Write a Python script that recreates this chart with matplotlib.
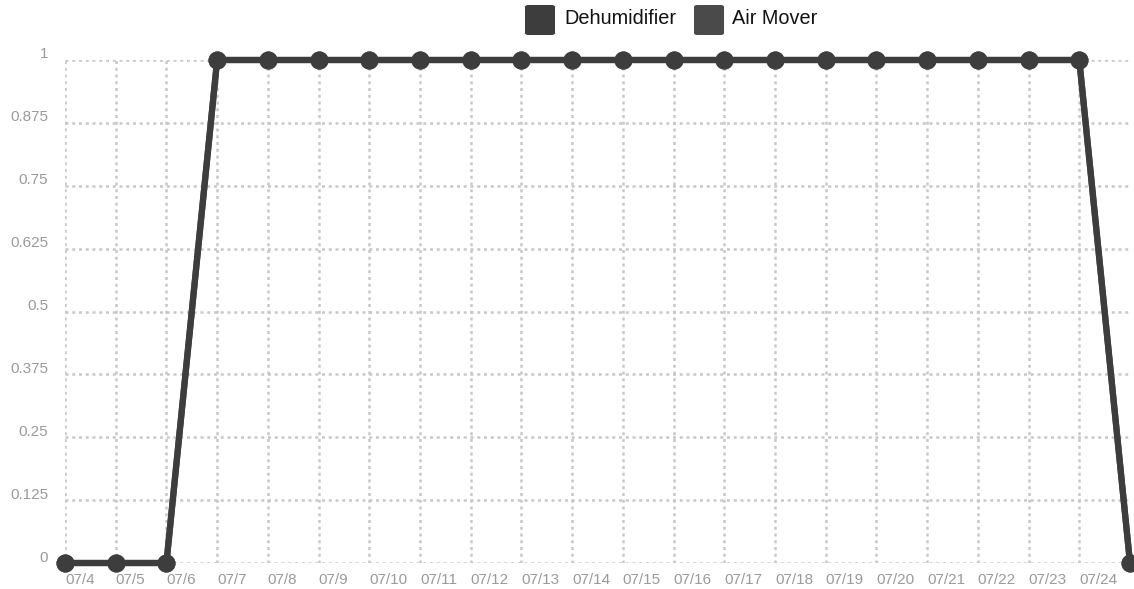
import matplotlib
matplotlib.use('Agg')
import matplotlib.pyplot as plt
import matplotlib.transforms as mtransforms
from matplotlib.patches import FancyBboxPatch
import numpy as np

plt.rcParams['font.family'] = ['Liberation Sans', 'DejaVu Sans']

# dates (last point 07/25 has no visible label)
dates = ["07/4", "07/5", "07/6", "07/7", "07/8", "07/9", "07/10", "07/11", "07/12",
         "07/13", "07/14", "07/15", "07/16", "07/17", "07/18", "07/19", "07/20",
         "07/21", "07/22", "07/23", "07/24", "07/25"]
dehumidifier = [0, 0, 0, 1, 1, 1, 1, 1, 1, 1, 1, 1, 1, 1, 1, 1, 1, 1, 1, 1, 1, 0]
air_mover = [0, 0, 0, 1, 1, 1, 1, 1, 1, 1, 1, 1, 1, 1, 1, 1, 1, 1, 1, 1, 1, 0]
y_ticks = [0, 0.125, 0.25, 0.375, 0.5, 0.625, 0.75, 0.875, 1]
y_labels = ["0", "0.125", "0.25", "0.375", "0.5", "0.625", "0.75", "0.875", "1"]

series = [("Dehumidifier", dehumidifier, "#3d3d3d"),
          ("Air Mover", air_mover, "#4a4a4a")]

W, H = 1134, 589
fig = plt.figure(figsize=(W / 100, H / 100), dpi=100)
ax = fig.add_axes([65 / W, 1 - 563 / H, (1130 - 65) / W, (563 - 60) / H])

x = np.arange(len(dates))
for name, vals, col in reversed(series):
    ax.plot(x, vals, color=col, lw=4.5, marker='o', ms=12,
            clip_on=False, zorder=3)

ax.set_xlim(0, len(dates) - 1)
ax.set_ylim(0, 1)

# dotted grid
for xi in x[:-1]:
    ax.axvline(xi, color="#c8c8c8", lw=1.8, ls=(0, (1.2, 1.5)), zorder=1)
for yv in y_ticks:
    ax.axhline(yv, color="#c8c8c8", lw=1.8, ls=(0, (1.2, 1.5)), zorder=1)

for s in ax.spines.values():
    s.set_visible(False)
ax.tick_params(length=0)

ax.set_xticks(x[:-1])
ax.set_xticklabels(dates[:-1], color="#9a9a9a", fontsize=11, ha='left')
ax.tick_params(axis='x', pad=7)
ax.set_yticks(y_ticks)
ax.set_yticklabels(y_labels, color="#9a9a9a", fontsize=11)
ax.tick_params(axis='y', pad=12)
off = mtransforms.ScaledTranslation(0, 7 / 100, fig.dpi_scale_trans)
for lbl in ax.get_yticklabels():
    lbl.set_transform(lbl.get_transform() + off)

# legend at top
legend_items = [(525, 564, "Dehumidifier", "#3d3d3d"), (694, 732, "Air Mover", "#4a4a4a")]
for sx, tx, name, col in legend_items:
    box = FancyBboxPatch((sx / W, 1 - 35 / H), 30 / W, 30 / H,
                         boxstyle="round,pad=0,rounding_size=0.003",
                         transform=fig.transFigure, facecolor=col, edgecolor='none')
    fig.patches.append(box)
    fig.text(tx / W, 1 - 19 / H, name, fontsize=14.3, color="#111111",
             ha='left', va='center')

fig.savefig("out.png", dpi=100)
